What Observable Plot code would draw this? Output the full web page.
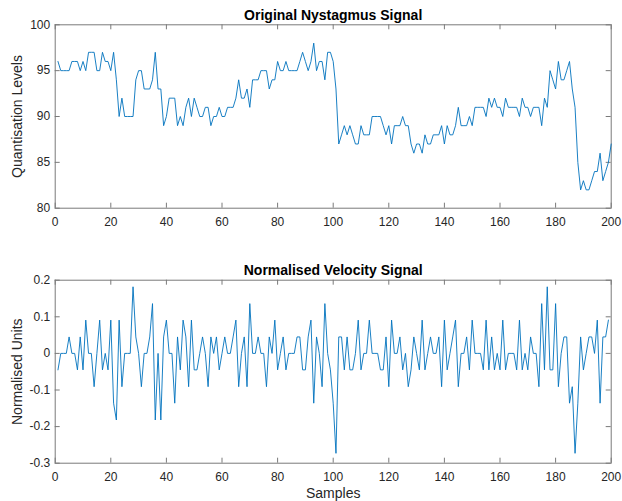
<!DOCTYPE html>
<html><head><meta charset="utf-8">
<script src="https://cdn.jsdelivr.net/npm/d3@7"></script>
<script src="https://cdn.jsdelivr.net/npm/@observablehq/plot@0.6"></script>
<style>
body{margin:0;background:#fff;}
#wrap{position:relative;width:622px;height:501px;overflow:hidden;}
#wrap svg{position:absolute;left:0;}
</style></head><body><div id="wrap"></div>
<script>
// Original signal: quantisation levels for samples 1..200
const signal = [
96,95,95,95,95,96,96,96,95,96, 95,97,97,97,95,95,97,96,96,95,
97,94,90,92,90,90,90,90,94,95, 95,93,93,93,94,97,93,93,89,90,
92,92,92,89,90,89,91,92,90,92, 91,90,90,91,91,89,90,90,91,90,
90,91,91,91,92,94,92,92,93,91, 94,94,94,95,95,95,93,94,94,96,
95,95,96,95,95,95,95,96,97,96, 95,96,98,95,96,96,94,97,97,96,
93,87,88,89,88,89,88,87,87,89, 88,88,88,90,90,90,90,89,88,89,
87,89,89,89,90,89,89,87,86,87, 87,86,88,87,87,88,88,88,89,87,
89,88,88,89,91,89,89,89,90,89, 91,91,91,91,90,92,91,92,91,91,
90,92,91,91,91,91,90,92,91,91, 90,91,91,91,89,92,91,95,94,93,
96,94,94,95,96,93,91,85,82,83, 82,82,83,84,84,86,83,84,85,87
];
// Normalised velocity for samples 1..199
const velocity = [
-0.045,0,0,0,0.045,0,0,-0.045,0.045,-0.045,
0.091,0,0,-0.091,0,0.091,-0.045,0,-0.045,0.091,
-0.136,-0.182,0.091,-0.091,0,0,0,0.182,0.045,0,
-0.091,0,0,0.045,0.136,-0.182,0,-0.182,0.045,0.091,
0,0,-0.136,0.045,-0.045,0.091,0.045,-0.091,0.091,-0.045,
-0.045,0,0.045,0,-0.091,0.045,0,0.045,-0.045,0,
0.045,0,0,0.045,0.091,-0.091,0,0.045,-0.091,0.136,
0,0,0.045,0,0,-0.091,0.045,0,0.091,-0.045,
0,0.045,-0.045,0,0,0,0.045,0.045,-0.045,-0.045,
0.045,0.091,-0.136,0.045,0,-0.091,0.136,0,-0.045,-0.136,
-0.273,0.045,0.045,-0.045,0.045,-0.045,-0.045,0,0.091,-0.045,
0,0,0.091,0,0,0,-0.045,-0.045,0.045,-0.091,
0.091,0,0,0.045,-0.045,0,-0.091,-0.045,0.045,0,
-0.045,0.091,-0.045,0,0.045,0,0,0.045,-0.091,0.091,
-0.045,0,0.045,0.091,-0.091,0,0,0.045,-0.045,0.091,
0,0,0,-0.045,0.091,-0.045,0.045,-0.045,0,-0.045,
0.091,-0.045,0,0,0,-0.045,0.091,-0.045,0,-0.045,
0.045,0,0,-0.091,0.136,-0.045,0.182,-0.045,-0.045,0.136,
-0.091,0,0.045,0.045,-0.136,-0.091,-0.273,-0.136,0.045,-0.045,
0,0.045,0.045,0,0.091,-0.136,0.045,0.045,0.091
];
const xTicks = [0,20,40,60,80,100,120,140,160,180,200];
const signalTicks = [80,85,90,95,100];
const velocityTicks = [-0.3,-0.2,-0.1,0,0.1,0.2];
const titles = ["Original Nystagmus Signal", "Normalised Velocity Signal"];
const yLabels = ["Quantisation Levels", "Normalised Units"];
const xLabel = "Samples";

const W = 622, mL = 54.7, mR = 11.3;
const frameColor = "#7a7a7a";
const lineColor = "#0072BD";
const font = "'Liberation Sans', Arial, Helvetica, sans-serif";

function panel({data, yDomain, yTicks, title, yLabel, xLab, height, marginTop, marginBottom, top}) {
  const fh = height - marginTop - marginBottom;
  const fw = W - mL - mR;
  const marks = [
    Plot.frame({stroke: frameColor, strokeWidth: 1}),
    Plot.tickX(xTicks, {x: d => d, insetTop: fh - 5, stroke: frameColor}),
    Plot.tickX(xTicks, {x: d => d, insetBottom: fh - 5, stroke: frameColor}),
    Plot.tickY(yTicks, {y: d => d, insetRight: fw - 5, stroke: frameColor}),
    Plot.tickY(yTicks, {y: d => d, insetLeft: fw - 5, stroke: frameColor}),
    Plot.axisX({ticks: xTicks, tickSize: 0, tickPadding: 9, label: null, fontSize: 12, fill: "#262626"}),
    Plot.axisY({ticks: yTicks, tickSize: 0, tickPadding: 5, label: null, tickFormat: d => String(d), fontSize: 12, fill: "#262626"}),
    Plot.line(data, {x: (d, i) => i + 1, y: d => d, stroke: lineColor, strokeWidth: 0.9}),
    Plot.text([title], {frameAnchor: "top", textAnchor: "middle", lineAnchor: "bottom", dy: -5, fontWeight: "bold", fontSize: 14, fill: "#000"}),
    Plot.text([yLabel], {frameAnchor: "left", textAnchor: "middle", lineAnchor: "middle", dx: -38, rotate: -90, fontSize: 14, fill: "#262626"})
  ];
  if (xLab) marks.push(Plot.text([xLab], {frameAnchor: "bottom", textAnchor: "middle", lineAnchor: "middle", dy: 30, fontSize: 14, fill: "#262626"}));
  const chart = Plot.plot({
    width: W, height, marginLeft: mL, marginRight: mR, marginTop, marginBottom,
    style: {fontFamily: font, fontSize: "12px", color: "#262626", background: "white", overflow: "visible"},
    x: {domain: [0, 200]},
    y: {domain: yDomain},
    marks
  });
  chart.style.top = top + "px";
  return chart;
}

const wrap = document.getElementById("wrap");
wrap.appendChild(panel({data: signal, yDomain: [80, 100], yTicks: signalTicks, title: titles[0], yLabel: yLabels[0], xLab: null, height: 250, marginTop: 24.3, marginBottom: 42.3, top: 0}));
wrap.appendChild(panel({data: velocity, yDomain: [-0.3, 0.2], yTicks: velocityTicks, title: titles[1], yLabel: yLabels[1], xLab: xLabel, height: 251, marginTop: 29.7, marginBottom: 38.3, top: 250}));
</script></body></html>
